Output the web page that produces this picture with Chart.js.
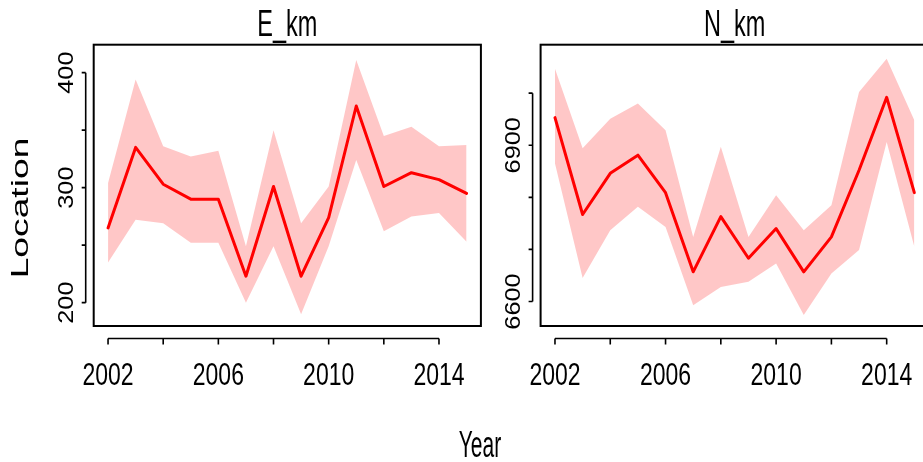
<!DOCTYPE html>
<html>
<head>
<meta charset="utf-8">
<script src="https://cdn.jsdelivr.net/npm/chart.js@4/dist/chart.umd.min.js"></script>
<style>
    html, body { margin: 0; padding: 0; background: #fff; }
    #wrap { position: relative; width: 923px; height: 462px; overflow: hidden; background: #fff; }
    #wrap canvas { position: absolute; left: 0; top: 0; }
</style>
</head>
<body>
<div id="wrap">
    <canvas id="eChart" width="940" height="462"></canvas>
    <canvas id="nChart" width="940" height="462"></canvas>
</div>
<script>
/* ---- data ---- */
const years = [2002, 2003, 2004, 2005, 2006, 2007, 2008, 2009, 2010, 2011, 2012, 2013, 2014, 2015];

const eMean  = [265, 335, 303, 290, 290, 223, 301, 223, 274, 371, 301, 313, 307, 295];
const eUpper = [304, 394, 336, 327, 332, 249, 350, 269, 301, 411, 345, 353, 336, 337];
const eLower = [235, 272, 269, 252, 252, 200, 249, 190, 249, 324, 262, 275, 278, 253];

const nMean  = [6953, 6767, 6846, 6881, 6809, 6657, 6763, 6683, 6740, 6657, 6724, 6852, 6992, 6809];
const nUpper = [7047, 6894, 6951, 6980, 6929, 6724, 6897, 6724, 6804, 6737, 6785, 7002, 7066, 6948];
const nLower = [6865, 6645, 6737, 6782, 6743, 6593, 6628, 6638, 6673, 6574, 6654, 6699, 6906, 6705];

const xTicks = [2002, 2004, 2006, 2008, 2010, 2012, 2014];
const xTickLabels = [2002, 2006, 2010, 2014];
const eTicks = [200, 250, 300, 350, 400];
const eTickLabels = [200, 300, 400];
const nTicks = [6600, 6700, 6800, 6900, 7000];
const nTickLabels = [6600, 6900];

const FONT = '"Liberation Sans", Arial, sans-serif';

// text with a stretch, R output was squashed a bit
function txt(ctx, s, x, y, o) {
    ctx.save();
    ctx.translate(x, y);
    if (o.rot) ctx.rotate(o.rot);
    ctx.scale(o.sx || 1, o.sy || 1);
    ctx.font = o.size + 'px ' + FONT;
    ctx.fillStyle = '#000';
    ctx.textAlign = o.align || 'center';
    ctx.textBaseline = 'alphabetic';
    ctx.fillText(s, 0, 0);
    ctx.restore();
}

// R style frame + detached axes
const rAxes = {
    id: 'rAxes',
    afterDraw(chart, args, opts) {
        const { ctx, chartArea: a } = chart;
        const xs = chart.scales.x, ys = chart.scales.y;
        ctx.save();
        ctx.strokeStyle = '#000';
        ctx.lineWidth = 2;
        ctx.strokeRect(a.left, a.top, a.right - a.left, a.bottom - a.top);

        // x axis
        const xl = a.bottom + 12.5;
        ctx.lineWidth = 1.6;
        ctx.beginPath();
        ctx.moveTo(xs.getPixelForValue(xTicks[0]), xl);
        ctx.lineTo(xs.getPixelForValue(xTicks[xTicks.length - 1]), xl);
        xTicks.forEach(t => {
            const px = xs.getPixelForValue(t);
            ctx.moveTo(px, xl); ctx.lineTo(px, xl + 6);
        });
        ctx.stroke();
        xTickLabels.forEach(t => txt(ctx, String(t), xs.getPixelForValue(t), 385, { size: 23, sy: 1.4 }));

        // y axis
        const yl = a.left - 8;
        const yt = opts.ticks;
        ctx.beginPath();
        ctx.moveTo(yl, ys.getPixelForValue(yt[0]));
        ctx.lineTo(yl, ys.getPixelForValue(yt[yt.length - 1]));
        yt.forEach(t => {
            const py = ys.getPixelForValue(t);
            ctx.moveTo(yl, py); ctx.lineTo(yl - 4, py);
        });
        ctx.stroke();
        opts.labels.forEach(t => txt(ctx, String(t), yl - 13, ys.getPixelForValue(t), { size: 22, sx: 1.15, rot: -Math.PI / 2 }));

        // panel title
        txt(ctx, opts.title, (a.left + a.right) / 2, 36, { size: 23.5, sy: 1.55 });

        if (opts.outer) {
            txt(ctx, 'Location', 28, 208, { size: 24, sx: 1.55, rot: -Math.PI / 2 });
            txt(ctx, 'Year', 480, 457, { size: 21, sy: 1.8 });
        }
        ctx.restore();
    }
};

function pts(vals) { return years.map((y, i) => ({ x: y, y: vals[i] })); }

function makeChart(id, mean, upper, lower, yMin, yMax, pad, axOpts) {
    return new Chart(document.getElementById(id), {
        type: 'line',
        data: {
            datasets: [
                { data: pts(upper), fill: '+1', backgroundColor: 'rgba(255,0,0,0.22)', borderWidth: 0, pointRadius: 0 },
                { data: pts(lower), fill: false, borderWidth: 0, pointRadius: 0 },
                { data: pts(mean), fill: false, borderColor: '#ff0000', borderWidth: 3, pointRadius: 0,
                  tension: 0, borderJoinStyle: 'round', borderCapStyle: 'round' }
            ]
        },
        options: {
            responsive: false, animation: false, devicePixelRatio: 1,
            layout: { padding: pad },
            plugins: { legend: { display: false }, tooltip: { enabled: false }, rAxes: axOpts },
            scales: {
                x: { type: 'linear', min: 2001.48, max: 2015.52, display: false },
                y: { min: yMin, max: yMax, display: false }
            }
        },
        plugins: [rAxes]
    });
}

makeChart('eChart', eMean, eUpper, eLower, 179.7, 424.3,
    { left: 93.7, right: 459.1, top: 44.7, bottom: 136 },
    { ticks: eTicks, labels: eTickLabels, title: 'E_km', outer: true });

makeChart('nChart', nMean, nUpper, nLower, 6553, 7093,
    { left: 540.6, right: 11.3, top: 44.7, bottom: 136 },
    { ticks: nTicks, labels: nTickLabels, title: 'N_km', outer: false });
</script>
</body>
</html>
